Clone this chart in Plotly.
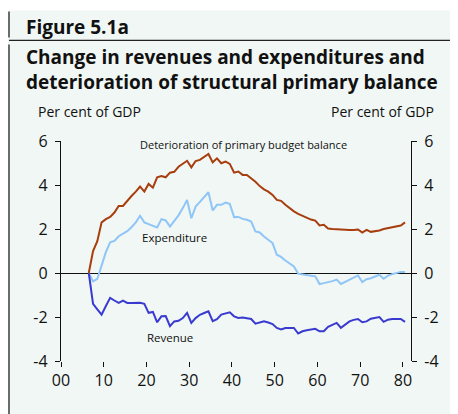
import plotly.graph_objects as go

years = [6.5 + i for i in range(75)]

deterioration = [0, 1.0, 1.45, 2.3, 2.45, 2.55, 2.75, 3.05, 3.05, 3.3,
                 3.5, 3.7, 3.93, 3.7, 4.05, 3.88, 4.35, 4.41, 4.35, 4.56,
                 4.6, 4.83, 4.97, 5.1, 4.8, 5.09, 5.14, 5.28, 5.41, 5.03,
                 5.21, 4.99, 5.06, 4.96, 4.56, 4.61, 4.46, 4.46, 4.32, 4.15,
                 3.95, 3.8, 3.7, 3.55, 3.32, 3.28, 3.1, 2.93, 2.8, 2.69,
                 2.6, 2.49, 2.43, 2.38, 2.16, 2.19, 2.02, 2.0, 1.98, 1.97,
                 1.96, 1.95, 1.96, 1.98, 1.84, 1.96, 1.87, 1.9, 1.93, 2.0,
                 2.04, 2.05, 2.1, 2.16, 2.3]

expenditure = [0, -0.38, -0.27, 0.35, 0.95, 1.39, 1.46, 1.67, 1.77, 1.9,
               2.08, 2.3, 2.6, 2.3, 2.22, 2.15, 2.07, 2.45, 2.39, 2.11,
               2.35, 2.62, 2.95, 3.32, 2.49, 3.02, 3.23, 3.45, 3.67, 2.84,
               3.1, 3.1, 3.2, 3.14, 2.54, 2.55, 2.46, 2.42, 2.34, 1.89,
               1.84, 1.66, 1.51, 1.36, 0.83, 0.73, 0.57, 0.42, 0.3, -0.03,
               -0.07, -0.1, -0.12, -0.15, -0.5, -0.46, -0.43, -0.37, -0.3, -0.5,
               -0.4, -0.3, -0.2, -0.11, -0.41, -0.28, -0.24, -0.16, -0.08, -0.26,
               -0.12, -0.05, 0, 0.05, 0.05]

revenue = [0, -1.4, -1.65, -1.89, -1.5, -1.13, -1.25, -1.36, -1.26, -1.36,
           -1.36, -1.36, -1.35, -1.4, -1.81, -1.77, -2.24, -1.97, -1.96, -2.42,
           -2.2, -2.17, -2.05, -1.81, -2.27, -2.05, -1.9, -1.82, -1.74, -2.19,
           -2.1, -1.89, -1.84, -1.79, -1.97, -2.04, -2.02, -2.04, -2.09, -2.3,
           -2.25, -2.19, -2.25, -2.32, -2.5, -2.57, -2.5, -2.5, -2.5, -2.75,
           -2.65, -2.6, -2.57, -2.54, -2.65, -2.65, -2.45, -2.35, -2.27, -2.49,
           -2.33, -2.2, -2.13, -2.09, -2.24, -2.2, -2.08, -2.03, -2.0, -2.22,
           -2.12, -2.09, -2.09, -2.09, -2.22]

x_tickvals = [0, 10, 20, 30, 40, 50, 60, 70, 80]
x_ticktext = ["00", "10", "20", "30", "40", "50", "60", "70", "80"]
y_tickvals = [-4, -2, 0, 2, 4, 6]
y_ticktext = ["-4", "-2", "0", "2", "4", "6"]

# The page body adds an 8 px margin; figure coordinates are offset by it.
OFF = 8
W, H = 458 - OFF, 414 - OFF
L, R, T, B = 61 - OFF, 411 - OFF, 140.7 - OFF, 361 - OFF
BG = "#f0f7f4"
FONT = "Open Sans"


def px(x):
    return (x - OFF - L) / (R - L)


def py(y):
    return (B - (y - OFF)) / (B - T)


fig = go.Figure()
fig.add_trace(go.Scatter(x=years, y=expenditure, mode="lines",
                         line=dict(color="#8fc5f7", width=2), hoverinfo="skip"))
fig.add_trace(go.Scatter(x=years, y=revenue, mode="lines",
                         line=dict(color="#3a3ad0", width=2), hoverinfo="skip"))
fig.add_trace(go.Scatter(x=years, y=deterioration, mode="lines", yaxis="y2",
                         line=dict(color="#a83d0e", width=2), hoverinfo="skip"))

axis_font = dict(family=FONT, size=16, color="#111")

fig.update_layout(
    width=W, height=H,
    margin=dict(l=L, r=W - R, t=T, b=H - B, pad=0, autoexpand=False),
    paper_bgcolor=BG, plot_bgcolor=BG,
    showlegend=False,
    xaxis=dict(range=[0, 81.9], tickvals=x_tickvals, ticktext=x_ticktext,
               ticks="outside", ticklen=5, tickwidth=1.3, tickcolor="#111",
               showline=False, showgrid=False, zeroline=False, automargin=False,
               tickfont=axis_font, fixedrange=True),
    yaxis=dict(range=[-4, 6], tickvals=y_tickvals, ticktext=y_ticktext,
               ticks="outside", ticklen=5, automargin=False,
               tickwidth=1.3, tickcolor="#111", showline=True, linecolor="#111",
               linewidth=1.3, showgrid=False, zeroline=True, zerolinecolor="#111",
               zerolinewidth=1, tickfont=axis_font, ticklabelstandoff=4),
    yaxis2=dict(range=[-4, 6], tickvals=y_tickvals, ticktext=y_ticktext,
                overlaying="y", side="right", automargin=False,
                ticks="outside", ticklen=5, tickwidth=1.3, tickcolor="#111",
                showline=True, linecolor="#111", linewidth=1.3, showgrid=False,
                zeroline=False, tickfont=axis_font, ticklabelstandoff=4),
    font=dict(family=FONT, color="#111"),
)

shapes = [
    dict(type="rect", xref="paper", yref="paper", x0=px(-5), x1=px(470),
         y0=py(-5), y1=py(10), fillcolor="white", line=dict(width=0), layer="below"),
    dict(type="line", xref="paper", yref="paper", x0=px(9), x1=px(470),
         y0=py(40), y1=py(40), line=dict(color="#222", width=1.3)),
    dict(type="line", xref="paper", yref="paper", x0=px(9), x1=px(9),
         y0=py(11), y1=py(37), line=dict(color="#222", width=1.3)),
    dict(type="line", xref="paper", yref="paper", x0=px(9), x1=px(9),
         y0=py(44), y1=py(420), line=dict(color="#222", width=1.3)),
]
fig.update_layout(shapes=shapes)

ann = []
ann.append(dict(text="<b>Figure 5.1a</b>", xref="paper", yref="paper", x=px(24),
                y=py(27), xanchor="left", yanchor="middle", showarrow=False,
                font=dict(family=FONT, size=19, color="#111")))
ann.append(dict(text="<b>Change in revenues and expenditures and</b>", xref="paper",
                yref="paper", x=px(24), y=py(57), xanchor="left", yanchor="middle",
                showarrow=False, font=dict(family=FONT, size=19, color="#111")))
ann.append(dict(text="<b>deterioration of structural primary balance</b>", xref="paper",
                yref="paper", x=px(24), y=py(82), xanchor="left", yanchor="middle",
                showarrow=False, font=dict(family=FONT, size=19, color="#111")))
ann.append(dict(text="Per cent of GDP", xref="paper", yref="paper", x=px(36),
                y=py(111), xanchor="left", yanchor="middle", showarrow=False,
                font=dict(family=FONT, size=14, color="#111")))
ann.append(dict(text="Per cent of GDP", xref="paper", yref="paper", x=px(436),
                y=py(111), xanchor="right", yanchor="middle", showarrow=False,
                font=dict(family=FONT, size=14, color="#111")))
ann.append(dict(text="Deterioration of primary budget balance", x=42.6, y=5.82,
                xref="x", yref="y", showarrow=False, xanchor="center", yanchor="middle",
                font=dict(family=FONT, size=11, color="#111")))
ann.append(dict(text="Expenditure", x=26.5, y=1.61, xref="x", yref="y",
                showarrow=False, xanchor="center", yanchor="middle",
                font=dict(family=FONT, size=11.5, color="#111")))
ann.append(dict(text="Revenue", x=25.6, y=-2.95, xref="x", yref="y",
                showarrow=False, xanchor="center", yanchor="middle",
                font=dict(family=FONT, size=11.5, color="#111")))
fig.update_layout(annotations=ann)

fig.write_html("out.html")
